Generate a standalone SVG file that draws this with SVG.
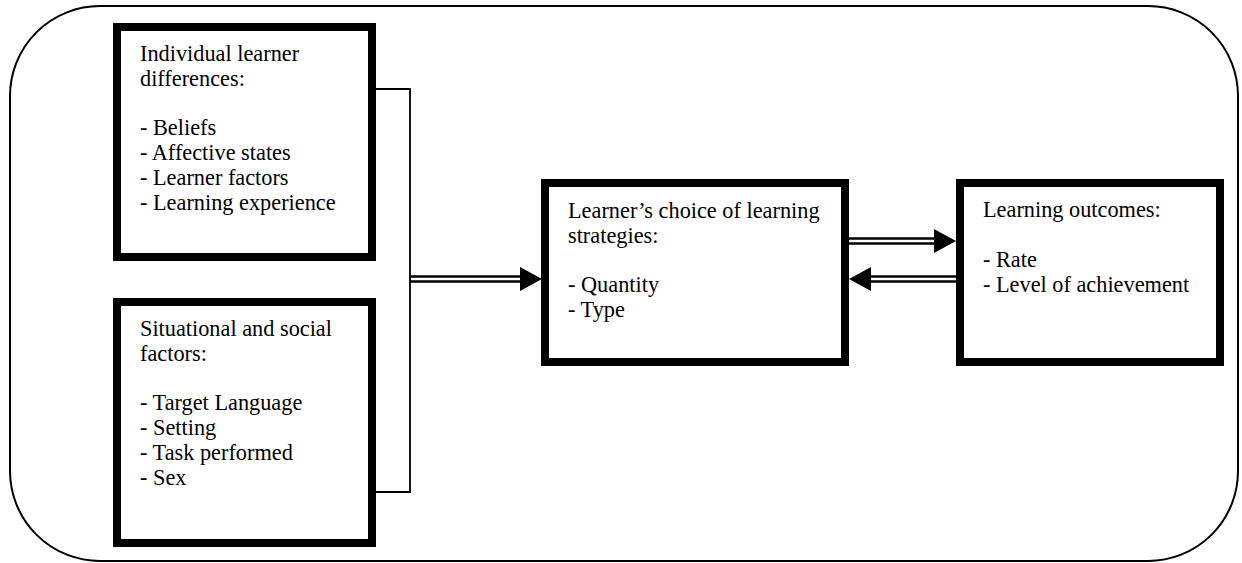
<svg xmlns="http://www.w3.org/2000/svg" width="1242" height="563" viewBox="0 0 1242 563">
  <style>
    .frame { fill: none; stroke: #000; stroke-width: 2; }
    .box { fill: #fff; stroke: #000; stroke-width: 8; }
    .lbl { font-family: "Liberation Serif", "Times New Roman", serif; font-size: 22.3px; fill: #000; }
    .thin { fill: none; stroke: #000; stroke-width: 1.8; }
    .dbl-out { fill: none; stroke: #000; stroke-width: 7.5; }
    .dbl-in { fill: none; stroke: #fff; stroke-width: 2.6; }
    .head { fill: #000; }
  </style>
  <defs>
    <!-- arrowhead pointing right, tip at origin -->
    <path id="arrowhead" class="head" d="M0,0 L-22,-12 L-22,12 Z"/>
  </defs>

  <rect x="0" y="0" width="1242" height="563" fill="#fff"/>

  <!-- outer rounded frame -->
  <rect class="frame" x="10" y="6" width="1228" height="555" rx="90" ry="90"/>

  <g id="connectors">
    <!-- bracket joining the two input boxes -->
    <path class="thin" d="M376,89 H410 V492 H376"/>

    <!-- inputs to strategies -->
    <line class="dbl-out" x1="410" y1="279" x2="522" y2="279"/>
    <line class="dbl-in" x1="411" y1="279" x2="524" y2="279"/>
    <use href="#arrowhead" transform="translate(542,279)"/>

    <!-- strategies to outcomes -->
    <line class="dbl-out" x1="849" y1="241" x2="936" y2="241"/>
    <line class="dbl-in" x1="849" y1="241" x2="938" y2="241"/>
    <use href="#arrowhead" transform="translate(956,241)"/>

    <!-- outcomes back to strategies -->
    <line class="dbl-out" x1="956" y1="279" x2="868" y2="279"/>
    <line class="dbl-in" x1="956" y1="279" x2="866" y2="279"/>
    <use href="#arrowhead" transform="translate(849,279) rotate(180)"/>
  </g>

  <g id="individual-differences">
    <rect class="box" x="117" y="27" width="255" height="230"/>
    <text class="lbl">
      <tspan x="140" y="61">Individual learner</tspan>
      <tspan x="140" y="85.8">differences:</tspan>
      <tspan x="140" y="135.4">- Beliefs</tspan>
      <tspan x="140" y="160.2">- Affective states</tspan>
      <tspan x="140" y="185">- Learner factors</tspan>
      <tspan x="140" y="209.8">- Learning experience</tspan>
    </text>
  </g>

  <g id="situational-factors">
    <rect class="box" x="117" y="302" width="255" height="241"/>
    <text class="lbl">
      <tspan x="140" y="336">Situational and social</tspan>
      <tspan x="140" y="360.8">factors:</tspan>
      <tspan x="140" y="410.4">- Target Language</tspan>
      <tspan x="140" y="435.2">- Setting</tspan>
      <tspan x="140" y="460">- Task performed</tspan>
      <tspan x="140" y="484.8">- Sex</tspan>
    </text>
  </g>

  <g id="learning-strategies">
    <rect class="box" x="545" y="183" width="300" height="179"/>
    <text class="lbl">
      <tspan x="568" y="218">Learner’s choice of learning</tspan>
      <tspan x="568" y="242.8">strategies:</tspan>
      <tspan x="568" y="292.4">- Quantity</tspan>
      <tspan x="568" y="317.2">- Type</tspan>
    </text>
  </g>

  <g id="learning-outcomes">
    <rect class="box" x="960" y="183" width="260" height="179"/>
    <text class="lbl">
      <tspan x="983" y="217">Learning outcomes:</tspan>
      <tspan x="983" y="267">- Rate</tspan>
      <tspan x="983" y="292">- Level of achievement</tspan>
    </text>
  </g>
</svg>
